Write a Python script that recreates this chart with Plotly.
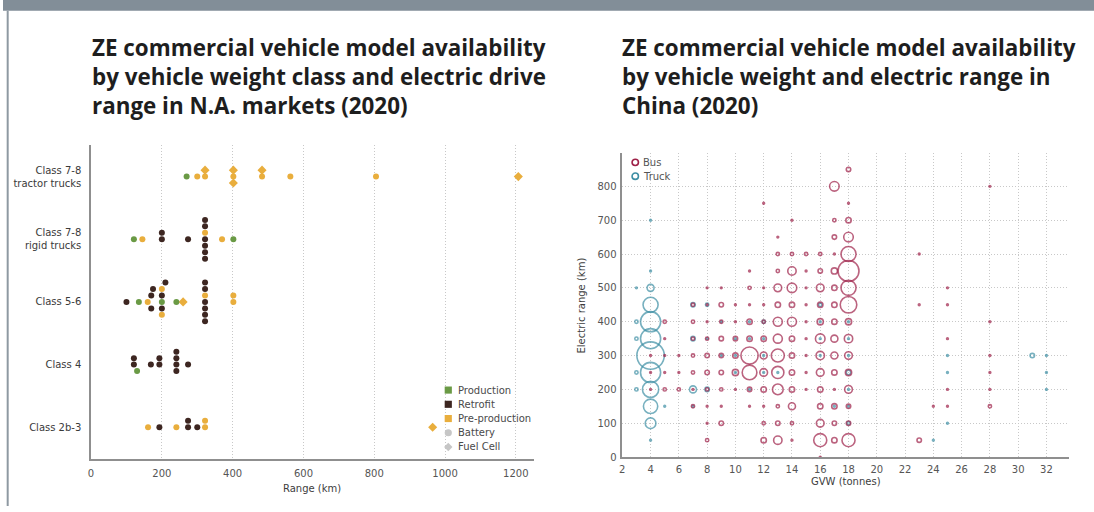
import numpy as np
import plotly.graph_objects as go

W, H = 1094, 512

# ---------------- North America: models by weight class and range ----------------
class_labels = ["Class 2b-3", "Class 4", "Class 5-6",
                "Class 7-8<br>rigid trucks", "Class 7-8<br>tractor trucks"]

c2b3_range = [161, 193, 241, 274, 274, 300, 322, 322, 965]
c2b3_status = ["Pre-production", "Retrofit", "Pre-production", "Retrofit", "Retrofit",
               "Retrofit", "Pre-production", "Pre-production", "Pre-production"]
c2b3_drive = ["Battery", "Battery", "Battery", "Battery", "Battery",
              "Battery", "Battery", "Battery", "Fuel Cell"]

c4_range = [121, 121, 130, 169, 193, 193, 241, 241, 241, 241, 274]
c4_status = ["Retrofit", "Retrofit", "Production", "Retrofit", "Retrofit", "Retrofit",
             "Retrofit", "Retrofit", "Retrofit", "Retrofit", "Retrofit"]
c4_drive = ["Battery", "Battery", "Battery", "Battery", "Battery", "Battery",
            "Battery", "Battery", "Battery", "Battery", "Battery"]

c56_range = [100, 135, 160, 170, 170, 175, 200, 200, 200, 200, 200, 210,
             241, 260, 322, 322, 322, 322, 322, 322, 322, 402, 402]
c56_status = ["Retrofit", "Production", "Pre-production", "Retrofit", "Retrofit", "Retrofit",
              "Production", "Retrofit", "Retrofit", "Pre-production", "Pre-production", "Retrofit",
              "Production", "Pre-production", "Retrofit", "Pre-production", "Retrofit", "Retrofit",
              "Retrofit", "Retrofit", "Retrofit", "Pre-production", "Pre-production"]
c56_drive = ["Battery", "Battery", "Battery", "Battery", "Battery", "Battery",
             "Battery", "Battery", "Battery", "Battery", "Battery", "Battery",
             "Battery", "Fuel Cell", "Battery", "Battery", "Battery", "Battery",
             "Battery", "Battery", "Battery", "Battery", "Battery"]

rigid_range = [121, 145, 200, 200, 274, 322, 322, 322, 322, 322, 322, 322, 370, 402]
rigid_status = ["Production", "Pre-production", "Retrofit", "Retrofit", "Retrofit",
                "Retrofit", "Pre-production", "Retrofit", "Retrofit", "Retrofit", "Retrofit",
                "Retrofit", "Pre-production", "Production"]
rigid_drive = ["Battery", "Battery", "Battery", "Battery", "Battery", "Battery", "Battery",
               "Battery", "Battery", "Battery", "Battery", "Battery", "Battery", "Battery"]

tractor_range = [270, 300, 322, 322, 402, 402, 402, 483, 483, 563, 805, 1207]
tractor_status = ["Production", "Pre-production", "Pre-production", "Pre-production",
                  "Pre-production", "Pre-production", "Pre-production", "Pre-production",
                  "Pre-production", "Pre-production", "Pre-production", "Pre-production"]
tractor_drive = ["Battery", "Battery", "Battery", "Fuel Cell", "Battery", "Fuel Cell",
                 "Fuel Cell", "Battery", "Fuel Cell", "Battery", "Battery", "Fuel Cell"]

range_ticks = [0, 200, 400, 600, 800, 1000, 1200]

# ---------------- China: models by GVW (tonnes) and electric range (km) ----------------
# (GVW, range, number of models)
bus_models = [
    (4, 300, 1), (4, 250, 1), (4, 200, 1),
    (5, 400, 2), (5, 350, 1), (5, 300, 1), (5, 250, 1), (5, 200, 2),
    (6, 300, 1), (6, 250, 1), (6, 200, 2),
    (7, 450, 2), (7, 400, 2), (7, 350, 2), (7, 300, 2), (7, 250, 2), (7, 200, 1), (7, 150, 2),
    (8, 500, 1), (8, 450, 1), (8, 400, 1), (8, 350, 2), (8, 300, 3), (8, 250, 3), (8, 200, 2),
    (8, 150, 1), (8, 100, 1), (8, 50, 2),
    (9, 500, 1), (9, 450, 3), (9, 400, 2), (9, 350, 3), (9, 300, 3), (9, 250, 3), (9, 200, 2),
    (9, 150, 1), (9, 100, 3),
    (10, 450, 1), (10, 400, 1), (10, 350, 3), (10, 300, 4), (10, 250, 5), (10, 200, 1),
    (11, 550, 1), (11, 500, 2), (11, 450, 1), (11, 400, 4), (11, 350, 4), (11, 300, 28),
    (11, 250, 21), (11, 200, 3), (11, 150, 1),
    (12, 750, 1), (12, 500, 1), (12, 450, 1), (12, 400, 2), (12, 350, 4), (12, 300, 6),
    (12, 250, 7), (12, 200, 4), (12, 150, 1), (12, 100, 2), (12, 50, 4),
    (13, 650, 1), (13, 600, 2), (13, 550, 2), (13, 500, 7), (13, 450, 4), (13, 400, 9),
    (13, 350, 9), (13, 300, 17), (13, 250, 15), (13, 200, 12), (13, 150, 2), (13, 100, 3),
    (13, 50, 8),
    (14, 700, 1), (14, 600, 2), (14, 550, 8), (14, 500, 10), (14, 450, 4), (14, 400, 9),
    (14, 350, 4), (14, 300, 4), (14, 250, 4), (14, 200, 4), (14, 150, 6), (14, 100, 2),
    (14, 50, 1),
    (15, 600, 2), (15, 550, 1), (15, 500, 1), (15, 450, 1), (15, 400, 1), (15, 350, 1),
    (15, 300, 1), (15, 250, 1), (15, 200, 1),
    (16, 600, 2), (16, 550, 3), (16, 500, 7), (16, 450, 4), (16, 400, 5), (16, 350, 10),
    (16, 300, 8), (16, 250, 7), (16, 200, 4), (16, 150, 4), (16, 100, 7), (16, 50, 17),
    (16, 0, 1),
    (17, 800, 10), (17, 700, 2), (17, 650, 3), (17, 600, 1), (17, 550, 5), (17, 500, 4),
    (17, 450, 4), (17, 400, 4), (17, 350, 6), (17, 300, 6), (17, 250, 4), (17, 200, 1),
    (17, 150, 4), (17, 100, 3), (17, 50, 4),
    (18, 850, 3), (18, 750, 1), (18, 700, 4), (18, 650, 10), (18, 600, 22), (18, 550, 40),
    (18, 500, 22), (18, 450, 26), (18, 400, 5), (18, 350, 8), (18, 300, 7), (18, 250, 5),
    (18, 200, 7), (18, 150, 3), (18, 100, 3), (18, 50, 17),
    (23, 600, 1), (23, 450, 1), (23, 50, 3),
    (24, 150, 1),
    (25, 500, 1), (25, 450, 1), (25, 350, 1), (25, 200, 1), (25, 150, 1),
    (28, 800, 1), (28, 400, 1), (28, 300, 1), (28, 250, 1), (28, 200, 1), (28, 150, 2),
]

truck_models = [
    (3, 500, 1), (3, 400, 2), (3, 350, 2), (3, 250, 2), (3, 200, 2),
    (4, 700, 1), (4, 550, 1), (4, 500, 6), (4, 450, 22), (4, 400, 37), (4, 350, 37),
    (4, 300, 66), (4, 250, 37), (4, 200, 25), (4, 150, 20), (4, 100, 12), (4, 50, 1),
    (5, 150, 1),
    (7, 450, 3), (7, 350, 3), (7, 200, 6), (7, 150, 1),
    (8, 450, 2), (8, 350, 1), (8, 200, 3),
    (9, 400, 1), (9, 300, 1),
    (10, 350, 1), (10, 300, 1), (10, 250, 1),
    (11, 400, 1), (11, 350, 1), (11, 200, 1),
    (12, 400, 2), (12, 350, 1), (12, 300, 1), (12, 250, 1),
    (13, 250, 1),
    (16, 450, 2), (16, 400, 1), (16, 350, 1), (16, 300, 1),
    (17, 150, 1),
    (18, 400, 1), (18, 350, 1), (18, 300, 1), (18, 250, 3), (18, 200, 1), (18, 150, 1),
    (18, 100, 2),
    (24, 50, 1), (25, 300, 1), (25, 250, 1), (25, 100, 1),
    (31, 300, 3), (32, 300, 1), (32, 250, 1), (32, 200, 1),
]

# ---------------- styling ----------------
STATUS_COLOR = {"Production": "#6a9a45", "Retrofit": "#3d2621", "Pre-production": "#e9ae3d"}
DRIVE_SYMBOL = {"Battery": "circle", "Fuel Cell": "diamond"}
DRIVE_SIZE = {"Battery": 6, "Fuel Cell": 7}
BUS_COLOR = "#9e2148"
TRUCK_COLOR = "#3d8ea4"
KEY_GRAY = "#c6c6c6"
GRID = "#c8c8c8"
GRID_DASH = "1px,2px"
AXIS = "#8f8f8f"
TICK_FONT = dict(family="DejaVu Sans", size=10, color="#555555")


def px(x):
    return x / W


def py(y):
    return 1 - y / H


def swarm_levels(values, min_gap=17.0):
    """Stack models with nearby ranges into levels 0, +1, -1, +2, -2 ..."""
    order = sorted(range(len(values)), key=lambda i: values[i])
    candidates = [0]
    for k in range(1, 8):
        candidates += [k, -k]
    placed, levels = [], [0] * len(values)
    for i in order:
        for lv in candidates:
            if all(abs(values[i] - v) >= min_gap for v, l in placed if l == lv):
                break
        placed.append((values[i], lv))
        levels[i] = lv
    return levels


LEVEL_STEP = 0.103
groups = [
    (c2b3_range, c2b3_status, c2b3_drive),
    (c4_range, c4_status, c4_drive),
    (c56_range, c56_status, c56_drive),
    (rigid_range, rigid_status, rigid_drive),
    (tractor_range, tractor_status, tractor_drive),
]
points = {}
for row, (rng, st, dr) in enumerate(groups):
    for r, s, d, lv in zip(rng, st, dr, swarm_levels(rng)):
        xs, ys = points.setdefault((s, d), ([], []))
        xs.append(r)
        ys.append(row + lv * LEVEL_STEP)

fig = go.Figure()

for (s, d), (xs, ys) in points.items():
    fig.add_trace(go.Scatter(
        x=xs, y=ys, mode="markers", xaxis="x", yaxis="y",
        marker=dict(symbol=DRIVE_SYMBOL[d], size=DRIVE_SIZE[d], color=STATUS_COLOR[s],
                    line=dict(width=0)),
        name=f"{s} {d}", hoverinfo="x+name"))


def bubble_sizes(counts):
    return [3.6 * np.sqrt(n) - 1.8 for n in counts]


for models, color, name in [(truck_models, TRUCK_COLOR, "Truck"), (bus_models, BUS_COLOR, "Bus")]:
    g, r, n = zip(*models)
    fig.add_trace(go.Scatter(
        x=list(g), y=list(r), mode="markers", xaxis="x2", yaxis="y2", name=name,
        marker=dict(symbol="circle-open", size=bubble_sizes(n), color=color,
                    line=dict(width=1.6)),
        customdata=list(n), hovertemplate="%{x} t, %{y} km: %{customdata}<extra>" + name + "</extra>"))

# plot areas
L_X0, L_X1, L_Y0, L_Y1 = 88.3, 532.0, 147.0, 464.0
R_X0, R_X1, R_Y0, R_Y1 = 621.0, 1069.0, 155.0, 462.5

grid_style = dict(showgrid=True, gridcolor=GRID, griddash=GRID_DASH, gridwidth=1)

fig.update_layout(
    width=W, height=H, margin=dict(l=0, r=0, t=0, b=0),
    paper_bgcolor="white", plot_bgcolor="rgba(0,0,0,0)", showlegend=False,
    font=dict(family="DejaVu Sans", size=10, color="#555555"),
    xaxis=dict(domain=[px(L_X0), px(L_X1)], anchor="y", range=[0, 1250],
               tickvals=range_ticks, **grid_style,
               zeroline=False, showline=True, linecolor=AXIS, linewidth=1.5,
               ticks="outside", ticklen=5, tickcolor="rgba(0,0,0,0)", tickfont=TICK_FONT),
    yaxis=dict(domain=[py(L_Y1), py(L_Y0)], anchor="x", range=[-0.5, 4.5],
               tickvals=[0, 1, 2, 3, 4], ticktext=class_labels, showgrid=False,
               zeroline=False, showline=True, linecolor=AXIS, linewidth=1.5,
               ticks="outside", ticklen=6, tickcolor="rgba(0,0,0,0)",
               tickfont=dict(family="DejaVu Sans", size=10, color="#3a3a3a")),
    xaxis2=dict(domain=[px(R_X0), px(R_X1)], anchor="y2", range=[2, 33.6],
                tick0=2, dtick=2, **grid_style,
                zeroline=False, showline=True, linecolor=AXIS, linewidth=1.5,
                ticks="outside", ticklen=2, tickcolor="rgba(0,0,0,0)", tickfont=TICK_FONT),
    yaxis2=dict(domain=[py(R_Y1), py(R_Y0)], anchor="x2", range=[0, 898],
                tick0=0, dtick=100, **grid_style,
                zeroline=False, showline=True, linecolor=AXIS, linewidth=1.5,
                ticks="outside", ticklen=2, tickcolor="rgba(0,0,0,0)", tickfont=TICK_FONT),
)

shapes = [
    # header band and left rule
    dict(type="rect", xref="paper", yref="paper", x0=0, x1=1, y0=py(11), y1=1,
         fillcolor="#828e98", line=dict(width=0), layer="above"),
    dict(type="rect", xref="paper", yref="paper", x0=px(3.7), x1=px(5.7), y0=0, y1=py(11),
         fillcolor="#8e99a2", line=dict(width=0), layer="above"),
]
annotations = []

# left key: status swatches and drive-type glyphs
key_x, key_tx = 446.5, 454.0
key_rows = [394.7, 409.1, 423.5, 437.9, 452.3]
key_items = [("Production", "square", STATUS_COLOR["Production"]),
             ("Retrofit", "square", STATUS_COLOR["Retrofit"]),
             ("Pre-production", "square", STATUS_COLOR["Pre-production"]),
             ("Battery", "circle", KEY_GRAY),
             ("Fuel Cell", "diamond", KEY_GRAY)]
# white backing behind the key
shapes.append(dict(type="rect", xref="paper", yref="paper", x0=px(439), x1=px(L_X1 - 1),
                   y0=py(461), y1=py(387), fillcolor="white", line=dict(width=0), layer="below"))
for (label, glyph, color), yy in zip(key_items, key_rows):
    if glyph == "square":
        shapes.append(dict(type="rect", xref="paper", yref="paper",
                           x0=px(key_x - 3.6), x1=px(key_x + 3.6), y0=py(yy + 3.6), y1=py(yy - 3.6),
                           fillcolor=color, line=dict(width=0)))
    elif glyph == "circle":
        shapes.append(dict(type="circle", xref="paper", yref="paper",
                           x0=px(key_x - 3.6), x1=px(key_x + 3.6), y0=py(yy + 3.6), y1=py(yy - 3.6),
                           fillcolor=color, line=dict(width=0)))
    else:
        path = "M {} {} L {} {} L {} {} L {} {} Z".format(
            px(key_x), py(yy - 4.2), px(key_x + 4.2), py(yy), px(key_x), py(yy + 4.2),
            px(key_x - 4.2), py(yy))
        shapes.append(dict(type="path", xref="paper", yref="paper", path=path,
                           fillcolor=color, line=dict(width=0)))
    annotations.append(dict(text=label, x=px(key_tx), y=py(yy), xref="paper", yref="paper",
                            xanchor="left", yanchor="middle", showarrow=False,
                            font=dict(family="DejaVu Sans", size=10, color="#4a4a4a")))

# right key: bus / truck
for label, color, yy in [("Bus", BUS_COLOR, 164.3), ("Truck", TRUCK_COLOR, 178.3)]:
    shapes.append(dict(type="circle", xref="paper", yref="paper",
                       x0=px(634 - 3.2), x1=px(634 + 3.2), y0=py(yy + 3.2), y1=py(yy - 3.2),
                       line=dict(color=color, width=1.6), fillcolor="rgba(0,0,0,0)"))
    annotations.append(dict(text=label, x=px(640), y=py(yy), xref="paper", yref="paper",
                            xanchor="left", yanchor="middle", showarrow=False,
                            font=dict(family="DejaVu Sans", size=10, color="#555555")))

# panel titles
title_font = dict(family="Open Sans", size=22.4, color="#1e1e1e", weight="bold")
annotations += [
    dict(text="ZE commercial vehicle model availability<br>by vehicle weight class and electric drive"
              "<br>range in N.A. markets (2020)",
         x=px(87), y=py(30), xref="paper", yref="paper", xanchor="left", yanchor="top",
         align="left", showarrow=False, font=title_font),
    dict(text="ZE commercial vehicle model availability<br>by vehicle weight and electric range in"
              "<br>China (2020)",
         x=px(619), y=py(30), xref="paper", yref="paper", xanchor="left", yanchor="top",
         align="left", showarrow=False, font=title_font),
    # axis titles
    dict(text="Range (km)", x=px((L_X0 + L_X1) / 2), y=py(494), xref="paper", yref="paper",
         xanchor="center", yanchor="middle", showarrow=False,
         font=dict(family="DejaVu Sans", size=10, color="#3d3d3d")),
    dict(text="GVW (tonnes)", x=px((R_X0 + R_X1) / 2), y=py(487), xref="paper", yref="paper",
         xanchor="center", yanchor="middle", showarrow=False,
         font=dict(family="DejaVu Sans", size=10, color="#3d3d3d")),
    dict(text="Electric range (km)", x=px(580), y=py((R_Y0 + R_Y1) / 2), xref="paper",
         yref="paper", xanchor="center", yanchor="middle", textangle=-90, showarrow=False,
         font=dict(family="DejaVu Sans", size=10, color="#3d3d3d")),
]

fig.update_layout(shapes=shapes, annotations=annotations)

fig.write_html("out.html", post_script="document.body.style.margin='0';")
